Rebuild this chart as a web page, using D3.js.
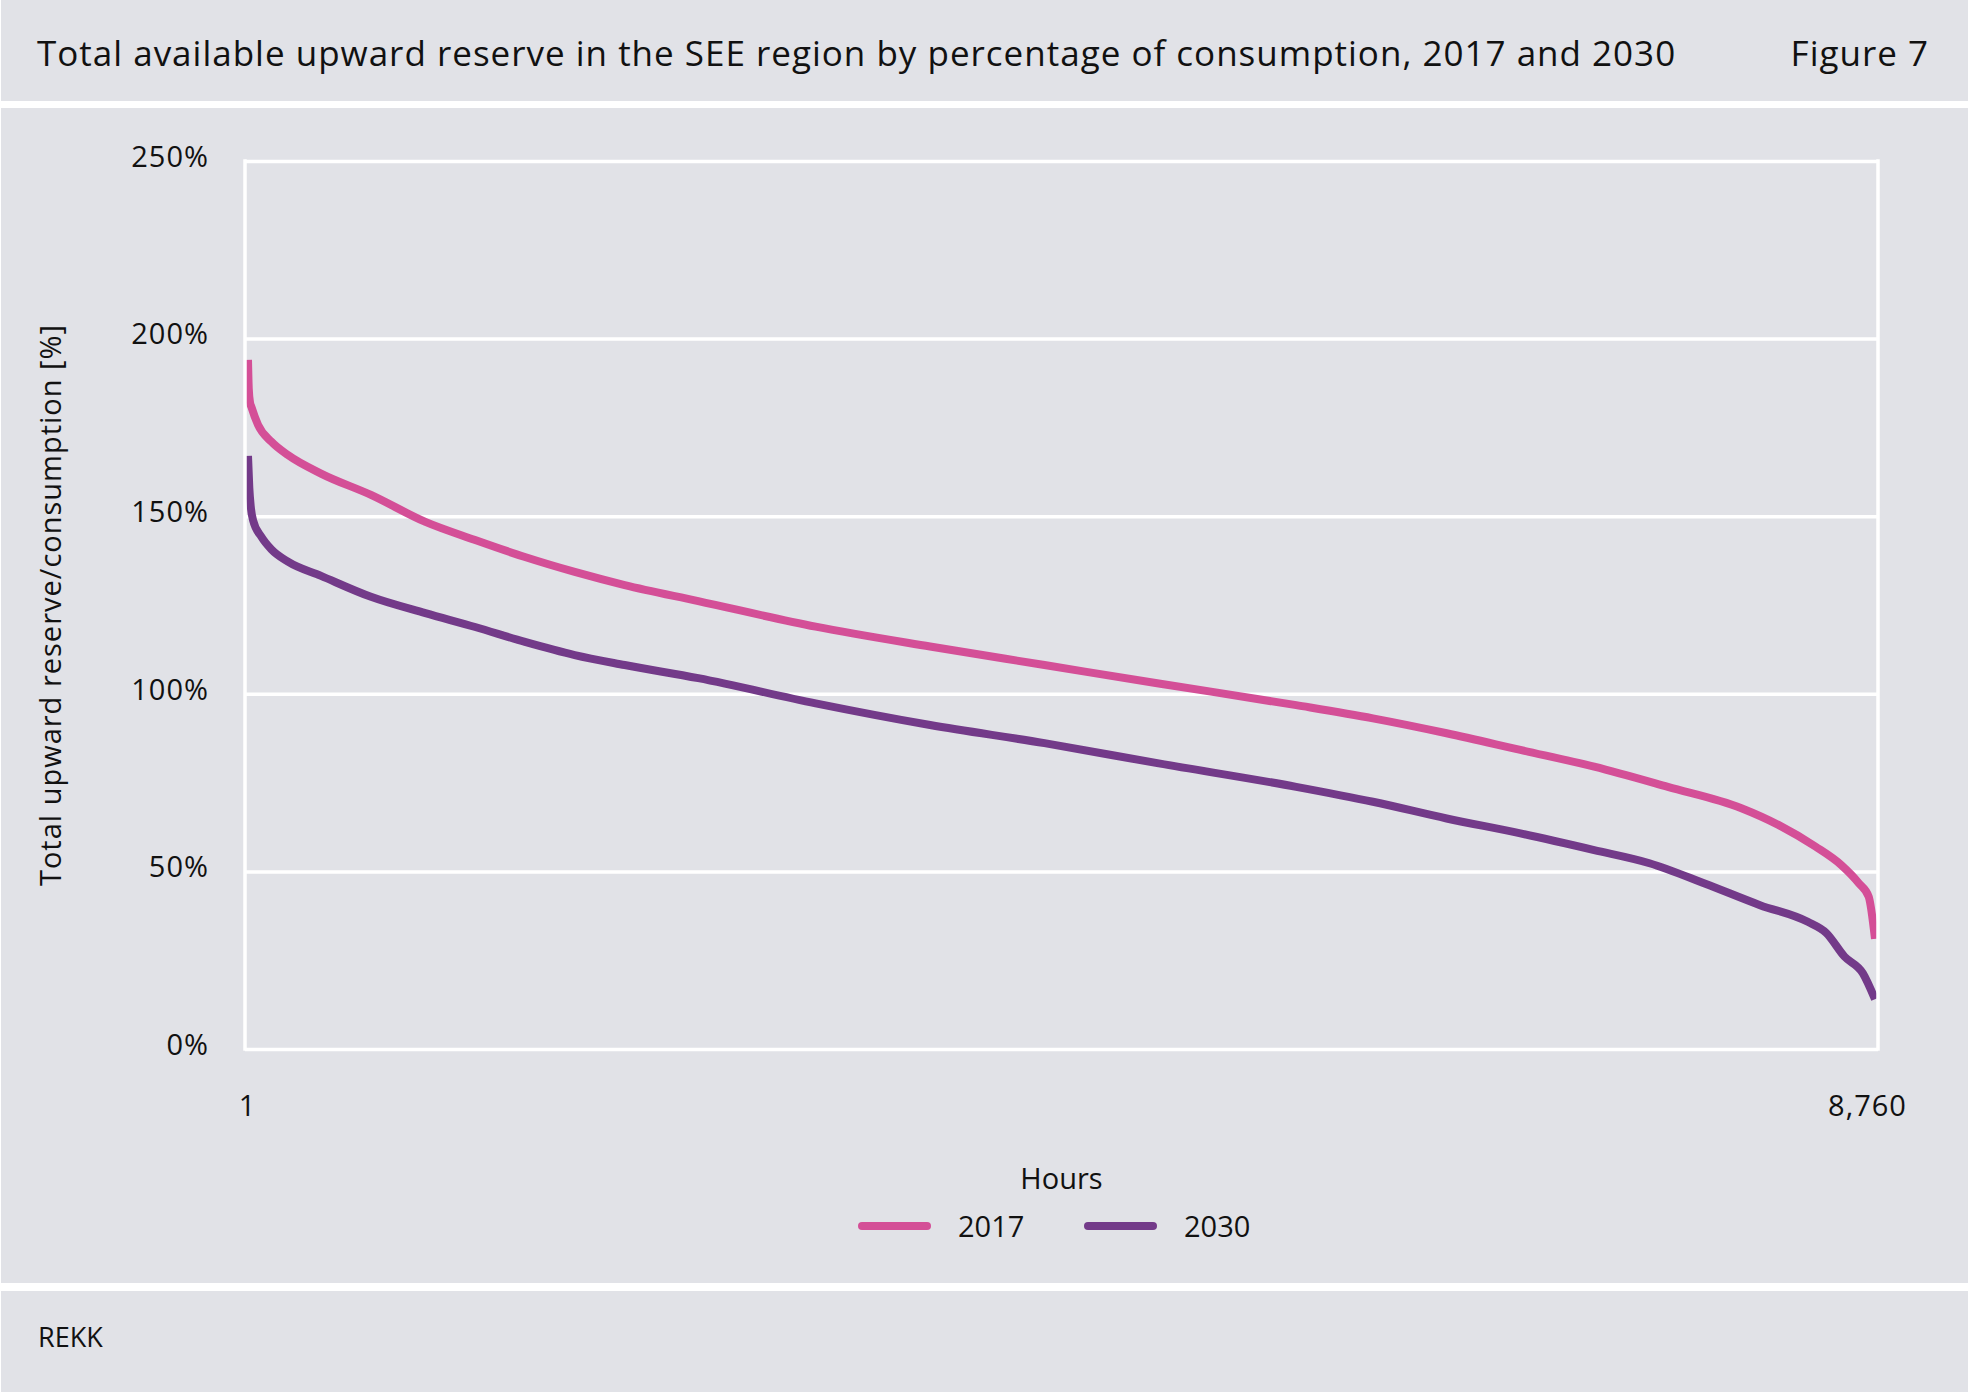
<!DOCTYPE html>
<html>
<head>
<meta charset="utf-8">
<script src="https://cdn.jsdelivr.net/npm/d3@7"></script>
<style>
  body { margin: 0; background: #fff; }
  text { font-family: "Open Sans", sans-serif; fill: #111; }
</style>
</head>
<body>
<div id="chart"></div>
<script>
// values (hour rank -> % of consumption)
const hours2017 = [1, 5, 12, 19, 55, 126, 216, 394, 663, 956, 1224, 1492, 1760, 2029, 2425, 3057, 3673, 4289, 4904, 5644, 6057, 6454, 6851, 7248, 7645, 8041, 8240, 8439, 8578, 8674, 8726, 8760];
const values2017 = [194, 186, 182, 180.8, 175.7, 171, 167.2, 162, 156, 148.4, 143.3, 138.5, 134.3, 130.6, 126.1, 118.9, 113.3, 108.1, 102.9, 96.8, 93.1, 88.9, 84.2, 79.5, 73.8, 67.8, 63.1, 57, 51.8, 46.6, 42.9, 31];

const hours2030 = [1, 8, 16, 28, 73, 126, 216, 394, 663, 956, 1224, 1492, 1760, 2029, 2425, 3057, 3673, 4289, 4904, 5644, 6057, 6454, 6851, 7248, 7546, 7843, 8141, 8398, 8497, 8596, 8695, 8760];
const values2030 = [167, 158, 152.6, 148.9, 144.2, 140.7, 137.2, 133.2, 127.3, 122.7, 118.8, 114.6, 110.9, 108.1, 104.4, 97.3, 91.2, 86.1, 80.4, 73.8, 69.6, 64.9, 60.7, 56, 52.3, 46.6, 40.5, 35.8, 32.7, 26, 21.3, 14];

const seriesNames = ["2017", "2030"];
const seriesColors = ["#d44f97", "#733a89"];
const yTicks = [0, 50, 100, 150, 200, 250];
const xTicks = [1, 8760];

const titleText = "Total available upward reserve in the SEE region by percentage of consumption, 2017 and 2030";
const figureText = "Figure 7";
const yTitle = "Total upward reserve/consumption [%]";
const xTitle = "Hours";
const sourceText = "REKK";

const W = 1968, H = 1393;
const frame = {left: 245, right: 1878, top: 161, bottom: 1049};
const bg = "#e1e2e7";

const svg = d3.select("#chart").append("svg")
    .attr("width", W)
    .attr("height", H);

// panels: header, body, footer
svg.append("rect").attr("x", 0).attr("y", 0).attr("width", W).attr("height", H).attr("fill", "#fff");
svg.append("rect").attr("x", 1).attr("y", 0).attr("width", W - 1).attr("height", 101).attr("fill", bg);
svg.append("rect").attr("x", 1).attr("y", 108).attr("width", W - 1).attr("height", 1175).attr("fill", bg);
svg.append("rect").attr("x", 1).attr("y", 1291).attr("width", W - 1).attr("height", 101).attr("fill", bg);

svg.append("text").attr("x", 37).attr("y", 66)
    .style("font-size", "35px").style("letter-spacing", "1px").text(titleText);
svg.append("text").attr("x", 1929).attr("y", 66)
    .attr("text-anchor", "end")
    .style("font-size", "35px").style("letter-spacing", "1px").text(figureText);
svg.append("text").attr("x", 38).attr("y", 1347)
    .style("font-size", "27px").text(sourceText);

const x = d3.scaleLinear().domain([1, 8760]).range([248, 1875]);
const y = d3.scaleLinear().domain([0, 250]).range([frame.bottom, frame.top]);

// gridlines + y labels
const yAxis = svg.append("g")
    .attr("transform", `translate(${frame.left},0)`)
    .call(d3.axisLeft(y).tickValues(yTicks).tickFormat(d => d + "%")
        .tickSize(-(frame.right - frame.left)).tickPadding(36));
yAxis.select(".domain").remove();
yAxis.selectAll("line").attr("stroke", "#fff").attr("stroke-width", 3.5);
yAxis.selectAll("text").attr("dy", "0.18em")
    .style("font-size", "29px").style("letter-spacing", "1px").attr("fill", "#111");

// x labels
const xAxis = svg.append("g")
    .attr("transform", `translate(0,${frame.bottom})`)
    .call(d3.axisBottom(x).tickValues(xTicks).tickFormat(d3.format(",")).tickSize(0));
xAxis.select(".domain").remove();
xAxis.selectAll("text").attr("y", 67).attr("dy", 0)
    .attr("dx", d => d === 8760 ? -8 : -1)
    .style("font-size", "29px").style("letter-spacing", "1px").attr("fill", "#111");

// lines
const line = d3.line()
    .x(d => x(d[0]))
    .y(d => y(d[1]))
    .curve(d3.curveMonotoneX);

const series = [
    d3.zip(hours2017, values2017),
    d3.zip(hours2030, values2030)
];

svg.selectAll(".series")
    .data(series)
    .enter()
    .append("path")
    .attr("class", "series")
    .attr("d", line)
    .attr("fill", "none")
    .attr("stroke", (d, i) => seriesColors[i])
    .attr("stroke-width", 8)
    .attr("stroke-linejoin", "round");

// frame left / right (drawn over the line starts)
svg.append("line").attr("x1", frame.left).attr("x2", frame.left)
    .attr("y1", frame.top - 1.75).attr("y2", frame.bottom + 1.75)
    .attr("stroke", "#fff").attr("stroke-width", 3.5);
svg.append("line").attr("x1", frame.right).attr("x2", frame.right)
    .attr("y1", frame.top - 1.75).attr("y2", frame.bottom + 1.75)
    .attr("stroke", "#fff").attr("stroke-width", 3.5);

// axis titles
svg.append("text")
    .attr("transform", `translate(61,${(frame.top + frame.bottom) / 2}) rotate(-90)`)
    .attr("text-anchor", "middle")
    .style("font-size", "29px").style("letter-spacing", "1px")
    .text(yTitle);
svg.append("text").attr("x", (frame.left + frame.right) / 2).attr("y", 1189)
    .attr("text-anchor", "middle")
    .style("font-size", "29px")
    .text(xTitle);

// legend
const legendX = [862, 1088];
const lg = svg.selectAll(".legend")
    .data(seriesNames)
    .enter()
    .append("g")
    .attr("class", "legend")
    .attr("transform", (d, i) => `translate(${legendX[i]},1226)`);
lg.append("line")
    .attr("x1", 0).attr("x2", 65)
    .attr("stroke", (d, i) => seriesColors[i])
    .attr("stroke-width", 8)
    .attr("stroke-linecap", "round");
lg.append("text")
    .attr("x", 96).attr("y", 11)
    .style("font-size", "29px")
    .text(d => d);
</script>
</body>
</html>
